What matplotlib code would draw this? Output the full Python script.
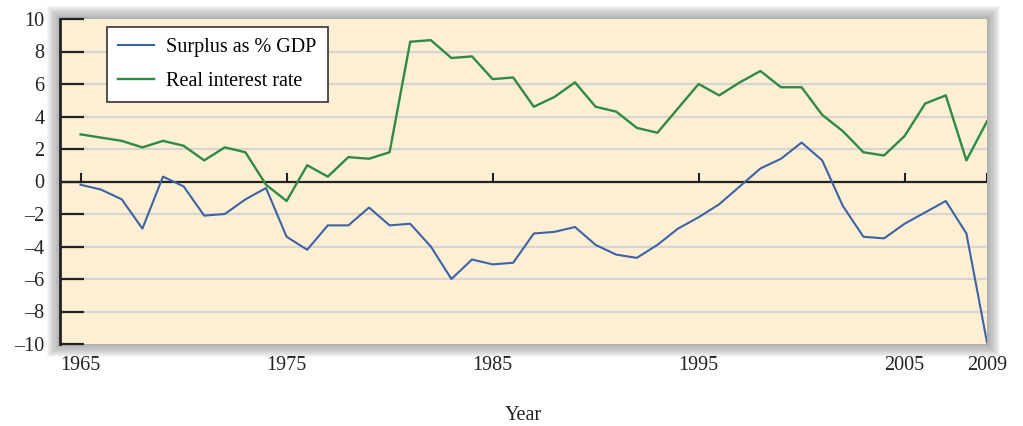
import matplotlib
matplotlib.use("Agg")
import matplotlib.pyplot as plt
from matplotlib.patches import FancyBboxPatch

years = list(range(1965, 2010))
surplus = [-0.2, -0.5, -1.1, -2.9, 0.3, -0.3, -2.1, -2.0, -1.1, -0.4,
           -3.4, -4.2, -2.7, -2.7, -1.6, -2.7, -2.6, -4.0, -6.0, -4.8,
           -5.1, -5.0, -3.2, -3.1, -2.8, -3.9, -4.5, -4.7, -3.9, -2.9,
           -2.2, -1.4, -0.3, 0.8, 1.4, 2.4, 1.3, -1.5, -3.4, -3.5,
           -2.6, -1.9, -1.2, -3.2, -9.9]
real_rate = [2.9, 2.7, 2.5, 2.1, 2.5, 2.2, 1.3, 2.1, 1.8, -0.2,
             -1.2, 1.0, 0.3, 1.5, 1.4, 1.8, 8.6, 8.7, 7.6, 7.7,
             6.3, 6.4, 4.6, 5.2, 6.1, 4.6, 4.3, 3.3, 3.0, 4.5,
             6.0, 5.3, 6.1, 6.8, 5.8, 5.8, 4.1, 3.1, 1.8, 1.6,
             2.8, 4.8, 5.3, 1.3, 3.7]
xticks = [1965, 1975, 1985, 1995, 2005, 2009]
yticks = [-10, -8, -6, -4, -2, 0, 2, 4, 6, 8, 10]

plt.rcParams['font.family'] = ['Liberation Serif', 'DejaVu Serif']

fig = plt.figure(figsize=(10.23, 4.26), dpi=100)
L, B, R, T = 60/1023, (426-344)/426, 987/1023, (426-19)/426
ax = fig.add_axes([L, B, R-L, T-B])

# drop shadow behind the plot area
for i in range(12, 0, -1):
    d = i * 1.1
    sh = FancyBboxPatch((L - d/1023, B - d/426), (R-L) + 2*d/1023, (T-B) + 2*d/426,
                        boxstyle="square,pad=0", transform=fig.transFigure,
                        facecolor='#5f5f5f', edgecolor='none', alpha=0.05, zorder=-5)
    fig.patches.append(sh)

ax.set_facecolor('#fdefd3')
ax.set_xlim(1964, 2009)
ax.set_ylim(-10, 10)

for yv in yticks:
    if yv not in (0, -10, 10):
        ax.axhline(yv, color='#d8d5cf', lw=1.6, zorder=1)

ax.plot(years, surplus, color='#3d63a6', lw=1.5, label='Surplus as % GDP', zorder=3)
ax.plot(years, real_rate, color='#2f8a45', lw=1.7, label='Real interest rate', zorder=3)

ax.axhline(0, color='#222222', lw=1.6, zorder=2)
ax.vlines(xticks, 0, 0.55, color='#222222', lw=1.5, zorder=2)

for s in ['top', 'right', 'bottom']:
    ax.spines[s].set_visible(False)
ax.spines['left'].set_linewidth(2)
ax.spines['left'].set_color('#222222')

ax.set_yticks(yticks)
ax.set_yticklabels([str(v).replace('-', '\u2013') for v in yticks])
ax.tick_params(axis='y', direction='in', length=17, width=1.6, color='#222222',
               pad=11, labelsize=14.5, labelcolor='#222222')
ax.set_xticks(xticks)
ax.set_xticklabels([str(v) for v in xticks])
ax.tick_params(axis='x', length=0, pad=9, labelsize=14.5, labelcolor='#222222')
ax.set_xlabel('Year', fontsize=14.5, color='#222222', labelpad=22)

leg = ax.legend(loc='upper left', bbox_to_anchor=(0.0507, 0.975), fontsize=14.5,
                frameon=True, fancybox=False, framealpha=1, edgecolor='#333333',
                handlelength=1.8, handletextpad=0.6, borderpad=0.55,
                labelspacing=0.72, borderaxespad=0)
leg.get_frame().set_linewidth(1.2)

fig.savefig('out.png', dpi=100, facecolor='white')
